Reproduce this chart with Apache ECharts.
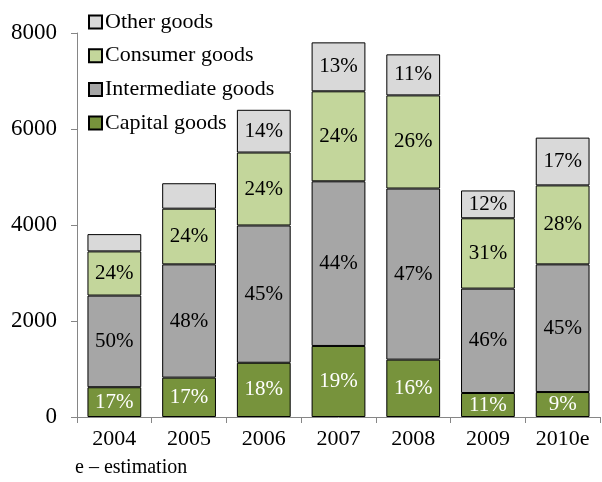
<!DOCTYPE html>
<html><head><meta charset="utf-8">
<script src="https://cdn.jsdelivr.net/npm/echarts@6/dist/echarts.min.js"></script>
<style>html,body{margin:0;padding:0;background:#fff}#c{width:602px;height:482px}</style>
</head><body><div id="c"></div>
<script>
const categories = ['2004','2005','2006','2007','2008','2009','2010e'];
const capital = [620, 820, 1130, 1480, 1195, 500, 520];
const intermediate = [1910, 2360, 2860, 3430, 3565, 2175, 2660];
const consumer = [920, 1160, 1520, 1875, 1940, 1465, 1645];
const other = [360, 530, 890, 1020, 855, 580, 995];
const capitalLbl = ['17%','17%','18%','19%','16%','11%','9%'];
const intermediateLbl = ['50%','48%','45%','44%','47%','46%','45%'];
const consumerLbl = ['24%','24%','24%','24%','26%','31%','28%'];
const otherLbl = ['','','14%','13%','11%','12%','17%'];
const yTicks = [0, 2000, 4000, 6000, 8000];

const FONT = 'Liberation Serif';
function mk(name, data, labels, color, txt) {
  return {
    name, type: 'bar', stack: 'a', data, barCategoryGap: '28%',
    itemStyle: { color, borderColor: '#000', borderWidth: 1 },
    label: { show: true, position: 'inside', fontFamily: FONT, fontSize: 21, color: txt,
      formatter: p => labels[p.dataIndex] },
    emphasis: { disabled: true }
  };
}
const chart = echarts.init(document.getElementById('c'), null, { renderer: 'canvas' });
chart.setOption({
  animation: false,
  textStyle: { fontFamily: FONT },
  grid: { left: 77, right: 2, top: 33, bottom: 65, containLabel: false },
  legend: {
    orient: 'vertical', left: 83, top: 6, itemWidth: 13, itemHeight: 13, itemGap: 11.7,
    icon: 'rect',
    data: ['Other goods','Consumer goods','Intermediate goods','Capital goods'],
    textStyle: { fontFamily: FONT, fontSize: 22, color: '#000', padding: [0,0,0,-2], lineHeight: 22 }
  },
  xAxis: {
    type: 'category', data: categories,
    axisLine: { lineStyle: { color: '#868686' } },
    axisTick: { show: true, length: 6, lineStyle: { color: '#868686' } },
    axisLabel: { fontFamily: FONT, fontSize: 22, color: '#000', margin: 11 }
  },
  yAxis: {
    type: 'value', min: yTicks[0], max: yTicks[yTicks.length-1], interval: 2000,
    axisLine: { show: true, lineStyle: { color: '#868686' } },
    axisTick: { show: true, length: 6, lineStyle: { color: '#868686' } },
    splitLine: { show: false },
    axisLabel: { fontFamily: FONT, fontSize: 23, color: '#000', margin: 20, formatter: v => String(v) }
  },
  graphic: [{ type: 'text', left: 75, top: 458, style: { text: 'e – estimation', font: '20px "Liberation Serif"', fill: '#000' } }],
  series: [
    mk('Capital goods', capital, capitalLbl, '#77933C', '#fff'),
    mk('Intermediate goods', intermediate, intermediateLbl, '#A6A6A6', '#000'),
    mk('Consumer goods', consumer, consumerLbl, '#C3D69B', '#000'),
    mk('Other goods', other, otherLbl, '#D9D9D9', '#000')
  ]
});
</script></body></html>
